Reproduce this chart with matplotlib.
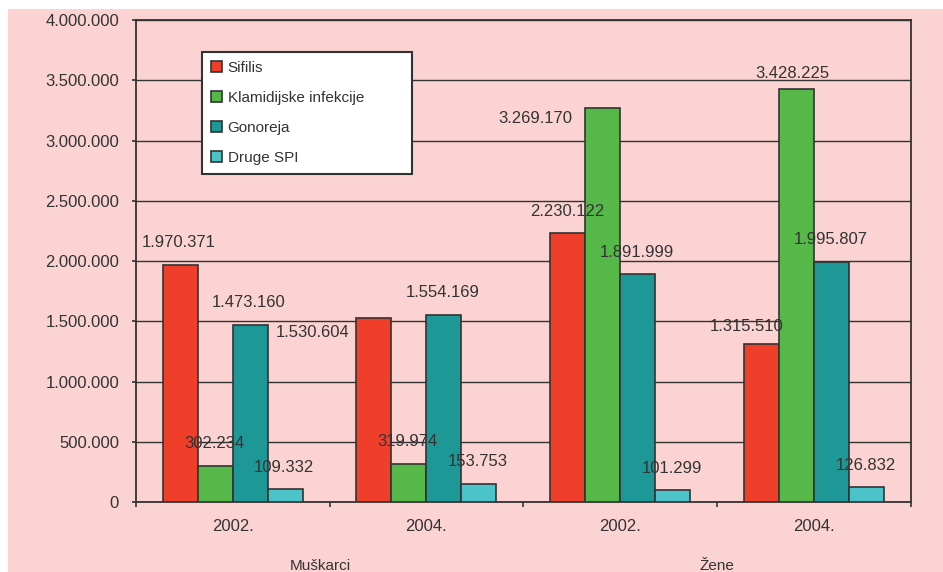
import numpy as np
import matplotlib
matplotlib.use("Agg")
import matplotlib.pyplot as plt
from matplotlib.patches import Rectangle, Patch
from matplotlib.ticker import FuncFormatter

plt.rcParams['font.family'] = ['Liberation Sans', 'DejaVu Sans']

# data
categories = ['2002.', '2004.', '2002.', '2004.']
groups = ['Muškarci', 'Žene']
series_names = ['Sifilis', 'Klamidijske infekcije', 'Gonoreja', 'Druge SPI']
sifilis = [1970371, 1530604, 2230122, 1315510]
klamidije = [302234, 319974, 3269170, 3428225]
gonoreja = [1473160, 1554169, 1891999, 1995807]
druge = [109332, 153753, 101299, 126832]

colors = ['#EF3E2A', '#55B848', '#1E9797', '#4BC3C9']
bg = '#FBD3D2'
ink = '#333333'

# label nudges (pixels) where the original labels sit off their bars
label_shift = {
    (0, 1): (-61, -15),
    (1, 2): (-67, -10),
    (0, 3): (-15, 17),
    (1, 3): (-4, 15),
}

fig = plt.figure(figsize=(9.43, 5.72), dpi=100)
fig.patch.set_facecolor('white')
fig.patches.append(Rectangle((8 / 943, 0), 1, (572 - 9) / 572,
                             transform=fig.transFigure, facecolor=bg,
                             edgecolor='none', zorder=-10))

ax = fig.add_axes([135.7 / 943, 1 - 502.3 / 572, (911 - 135.7) / 943, (502.3 - 20) / 572])
ax.set_facecolor('none')

x = np.arange(len(categories))
width = 0.1806
values = [sifilis, klamidije, gonoreja, druge]

for i, (name, vals, col) in enumerate(zip(series_names, values, colors)):
    pos = x + (i - 1.5) * width
    ax.bar(pos, vals, width, color=col, edgecolor=ink, linewidth=1.2,
           label=name, zorder=3)
    for j, (px, v) in enumerate(zip(pos, vals)):
        dx, dy = label_shift.get((i, j), (-1, 22))
        ax.annotate(f"{v:,}".replace(",", "."), (px, v),
                    xytext=(dx, dy), textcoords='offset pixels',
                    ha='center', va='center', fontsize=12, color=ink, zorder=4)

ax.set_xlim(-0.5, len(categories) - 0.5)
ax.set_ylim(0, 4000000)
ax.set_yticks(np.arange(0, 4000001, 500000))
ax.yaxis.set_major_formatter(FuncFormatter(lambda v, p: f"{int(v):,}".replace(",", ".")))
ax.yaxis.grid(True, color=ink, linewidth=1.0, zorder=1)
ax.set_axisbelow(True)

ax.set_xticks(np.arange(-0.5, len(categories), 1.0))
ax.set_xticklabels([])
ax.set_xticks(x, minor=True)
ax.set_xticklabels(categories, minor=True)
ax.tick_params(axis='x', which='major', direction='out', length=3.6, width=1.2, color=ink)
ax.tick_params(axis='x', which='minor', length=0, pad=12, labelsize=12, labelcolor=ink)
ax.tick_params(axis='y', direction='out', length=3, width=1.2, color=ink,
               pad=9, labelsize=12, labelcolor=ink)

for s in ax.spines.values():
    s.set_color(ink)
    s.set_linewidth(1.3)

# group names under the year labels
for gx, g in zip([0.45, 2.5], groups):
    ax.text(gx, -0.132, g, transform=ax.get_xaxis_transform(), ha='center',
            va='center', fontsize=11, color=ink)

handles = [Patch(facecolor=c, edgecolor=ink, linewidth=1.2) for c in colors]
leg_top = (502.3 - 51.7) / 482.3
leg = ax.legend(handles, series_names, loc='upper left',
                bbox_to_anchor=((202.3 - 135.7) / 775.3, leg_top - 0.1,
                                210 / 775.3, 0.1),
                mode='expand', fontsize=11, frameon=True, fancybox=False,
                handlelength=0.7, handleheight=0.7, handletextpad=0.35,
                borderpad=0.6, labelspacing=1.05, borderaxespad=0)
leg.get_frame().set_edgecolor(ink)
leg.get_frame().set_linewidth(1.5)
leg.get_frame().set_facecolor('white')
leg.get_frame().set_alpha(1)
leg.set_zorder(5)
for t in leg.get_texts():
    t.set_color(ink)

fig.savefig('out.png', dpi=100, facecolor=fig.get_facecolor())
